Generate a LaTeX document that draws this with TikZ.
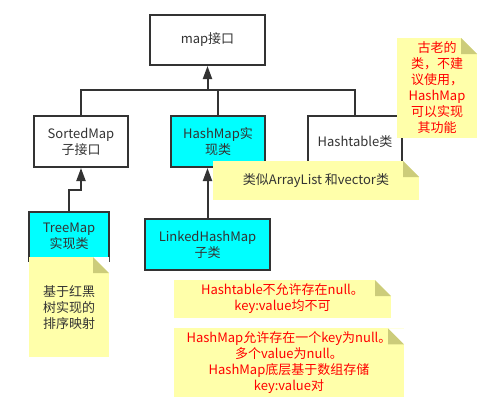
\documentclass[tikz,border=0pt]{standalone}
\usepackage{fontspec}
\setmainfont{Noto Sans CJK SC}
\usepackage{tikz}
\usetikzlibrary{arrows.meta,positioning}
\usepackage{xcolor}
\definecolor{boxCyan}{HTML}{00FFFF}
\definecolor{noteYellow}{HTML}{FFFFAA}
\definecolor{foldOlive}{HTML}{CCCC7A}
\definecolor{textGray}{HTML}{333333}
\definecolor{lineGray}{HTML}{333333}
\definecolor{noteRed}{HTML}{FF0000}
\tikzset{
    classbox/.style={
        rectangle,
        draw=lineGray,
        line width=2pt,
        fill=white,
        text=textGray,
        align=center,
        minimum width=94pt,
        minimum height=51pt,
        font=\fontsize{13pt}{16pt}\selectfont
    },
    implbox/.style={
        classbox,
        fill=boxCyan
    },
    note/.style={
        rectangle,
        fill=noteYellow,
        text=noteRed,
        align=center,
        font=\fontsize{13pt}{16pt}\selectfont,
        path picture={
            \fill[white] ([xshift=-16pt]path picture bounding box.north east)
                -- (path picture bounding box.north east)
                -- ([yshift=-16pt]path picture bounding box.north east) -- cycle;
            \fill[foldOlive] ([xshift=-16pt]path picture bounding box.north east)
                -- ([xshift=-16pt,yshift=-16pt]path picture bounding box.north east)
                -- ([yshift=-16pt]path picture bounding box.north east) -- cycle;
        }
    },
    link/.style={line width=2pt,draw=lineGray},
    arrow/.style={link,-{Triangle[length=13pt,width=9pt]}}
}

\begin{document}
\begin{tikzpicture}[x=1pt,y=-1pt]
    \useasboundingbox (0,0) rectangle (485,407);

    \node[classbox, minimum width=115pt, minimum height=50pt] (map) at (207.5,40) {map接口};
    \node[classbox] (sorted) at (81,141.5) {SortedMap\\子接口};
    \node[implbox, right=41pt of sorted] (hashmap) {HashMap实\\现类};
    \node[classbox, right=41pt of hashmap] (hashtable) {Hashtable类};
    \node[implbox, minimum width=80pt, minimum height=49pt] (treemap) at (69,236.5)
        {TreeMap\\实现类};
    \node[implbox, minimum width=125pt] (linked) at (207.5,244.5)
        {LinkedHashMap\\子类};

    \coordinate (bus) at (map.south |- 0,90);
    \coordinate (jog) at (treemap.north |- 0,190);
    \draw[arrow] (bus) -- (map);
    \draw[link] (sorted) |- (bus) -| (hashtable);
    \draw[link] (hashmap) -- (hashmap |- bus);
    \draw[arrow] (treemap) -- (jog) -| (sorted);
    \draw[arrow] (linked) -- (linked |- hashmap.south);

    % notes
    \node[note, minimum width=80pt, minimum height=100pt] (oldnote) at (437,88)
        {古老的\\类，不建\\议使用，\\HashMap\\可以实现\\其功能};
    \node[note, text=textGray, minimum width=206pt, minimum height=39pt] (listnote)
        at (316,180.5) {类似ArrayList 和vector类};
    \node[note, text=textGray, minimum width=80pt, minimum height=100pt,
        below=-5pt of treemap] (treenote) {基于红黑\\树实现的\\排序映射};
    \node[note, minimum width=217pt, minimum height=38pt] (nullnote) at (282.5,299)
        {Hashtable不允许存在null。\\key:value均不可};
    \node[note, minimum width=230pt, minimum height=69pt,
        below right=10pt and 0pt of nullnote.south west] (mapnote)
        {HashMap允许存在一个key为null。\\多个value为null。\\HashMap底层基于数组存储\\key:value对};
\end{tikzpicture}
\end{document}
